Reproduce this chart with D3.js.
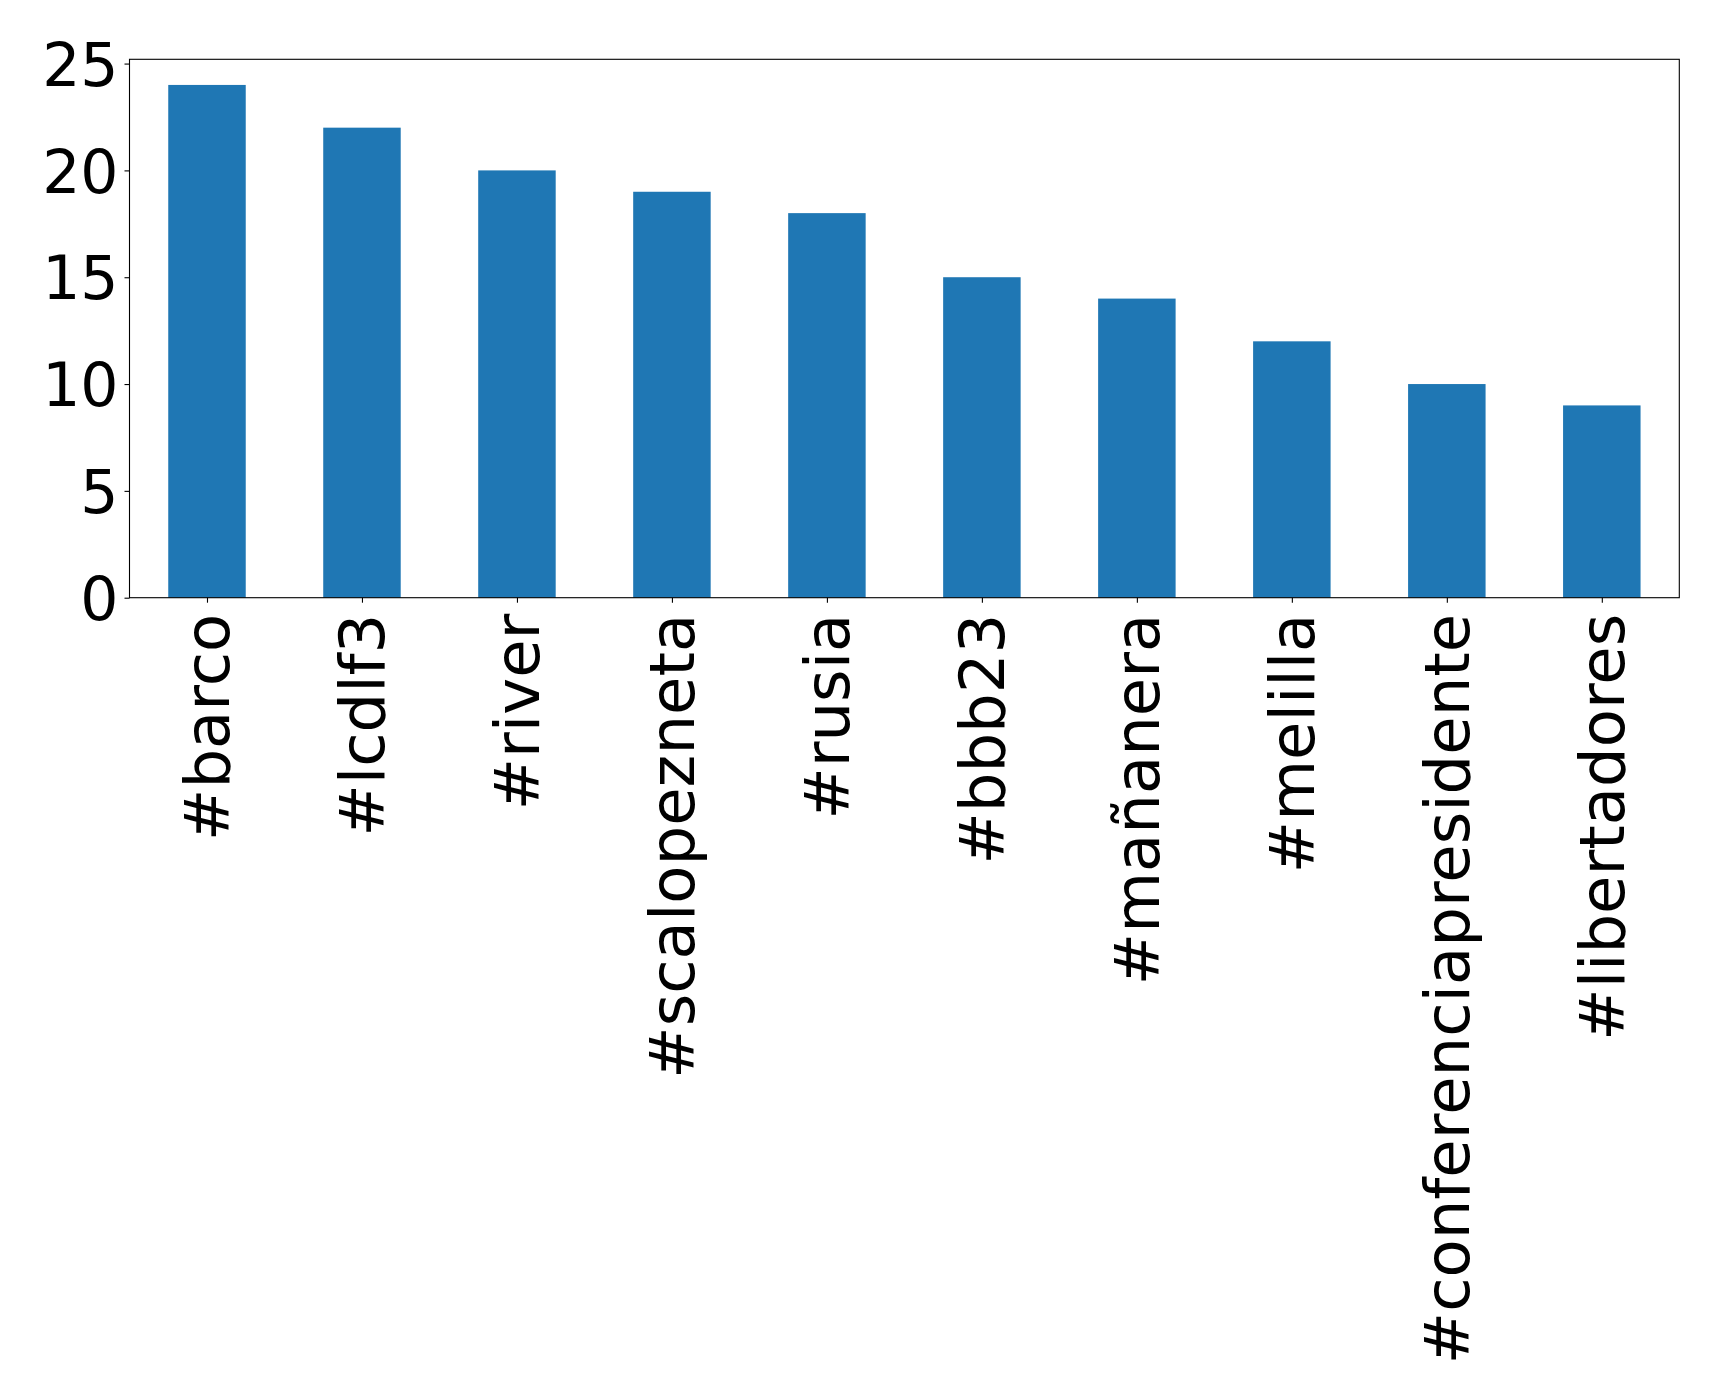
<!DOCTYPE html>
<html><head><meta charset="utf-8">
<script src="https://cdn.jsdelivr.net/npm/d3@7"></script>
<style>body{margin:0;background:#fff}svg{display:block}</style>
</head><body>
<script>
const categories = ["#barco","#lcdlf3","#river","#scalopezneta","#rusia","#bbb23","#mañanera","#melilla","#conferenciapresidente","#libertadores"];
const values = [24,22,20,19,18,15,14,12,10,9];
const yTicks = [0,5,10,15,20,25];

const W = 1719, H = 1398;
const m = {left:129.5, right:1679.3, top:59.3, bottom:597.7};
const svg = d3.select("body").append("svg").attr("width",W).attr("height",H);

const x = d3.scaleLinear().domain([-0.5, categories.length-0.5]).range([m.left, m.right]);
const y = d3.scaleLinear().domain([0, 25.2]).range([m.bottom, m.top]);
const font = "DejaVu Sans";
const fs = 60;
const fsx = 62.5;

svg.append("g").selectAll("rect").data(values).join("rect")
  .attr("x",(d,i)=>x(i-0.25)).attr("width",(d,i)=>x(i+0.25)-x(i-0.25))
  .attr("y",d=>y(d)).attr("height",d=>y(0)-y(d)).attr("fill","#1f77b4");

const yAxis = svg.append("g").attr("transform",`translate(${m.left},0)`)
  .call(d3.axisLeft(y).tickValues(yTicks).tickSize(5).tickPadding(6).tickFormat(d3.format("d")));
yAxis.select(".domain").remove();
yAxis.selectAll("line").attr("stroke","#000").attr("stroke-width",1.1);
yAxis.selectAll("text").attr("font-family",font).attr("font-size",fs).attr("fill","#000").attr("dy","0.36em");

const xAxis = svg.append("g").attr("transform",`translate(0,${m.bottom})`)
  .call(d3.axisBottom(x).tickValues(d3.range(categories.length)).tickSize(5).tickPadding(0).tickFormat(i=>categories[i]));
xAxis.select(".domain").remove();
xAxis.selectAll("line").attr("stroke","#000").attr("stroke-width",1.1);
xAxis.selectAll("text").attr("font-family",font).attr("font-size",fsx).attr("fill","#000")
  .attr("text-anchor","end").attr("y",0).attr("dy","0.36em")
  .attr("transform","translate(-1,16) rotate(-90)");

svg.append("rect").attr("x",m.left).attr("y",m.top).attr("width",m.right-m.left).attr("height",m.bottom-m.top)
  .attr("fill","none").attr("stroke","#000").attr("stroke-width",1.1);
</script>
</body></html>
